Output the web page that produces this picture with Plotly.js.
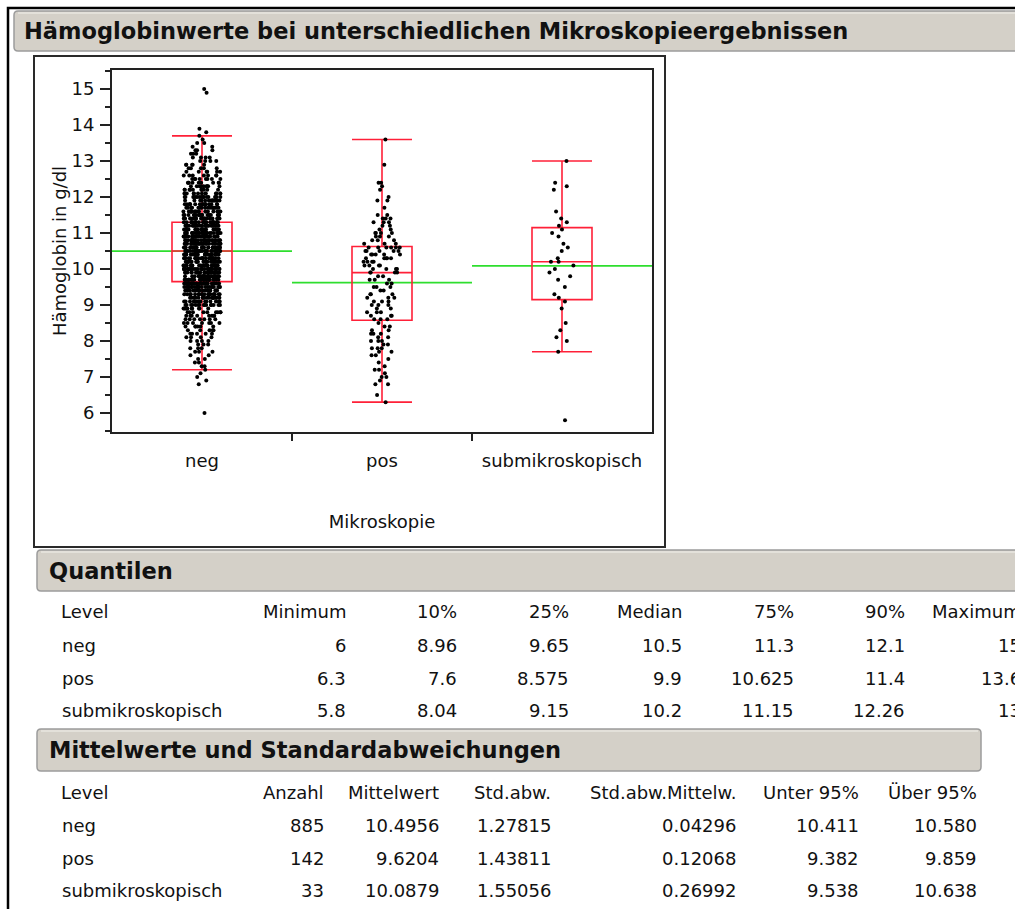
<!DOCTYPE html>
<html>
<head>
<meta charset="utf-8">
<script src="https://cdn.plot.ly/plotly-3.0.1.min.js"></script>
<style>
  html, body { margin: 0; padding: 0; background: #fff; overflow: hidden; }
  #chart { width: 1015px; height: 909px; }
</style>
</head>
<body>
<div id="chart"></div>
<script>
// ---- data ---------------------------------------------------------------
const groups = ['neg', 'pos', 'submikroskopisch'];

// Hämoglobin readings (g/dl) per microscopy result, as value / frequency pairs
const negHb = [6.0, 6.8, 6.9, 7.0, 7.1, 7.2, 7.3, 7.4, 7.5, 7.6, 7.7, 7.8, 7.9,
  8.0, 8.1, 8.2, 8.3, 8.4, 8.5, 8.6, 8.7, 8.8, 8.9,
  9.0, 9.1, 9.2, 9.3, 9.4, 9.5, 9.6, 9.7, 9.8, 9.9,
  10.0, 10.1, 10.2, 10.3, 10.4, 10.5, 10.6, 10.7, 10.8, 10.9,
  11.0, 11.1, 11.2, 11.3, 11.4, 11.5, 11.6, 11.7, 11.8, 11.9,
  12.0, 12.1, 12.2, 12.3, 12.4, 12.5, 12.6, 12.7, 12.8, 12.9,
  13.0, 13.1, 13.2, 13.3, 13.4, 13.5, 13.6, 13.7, 13.8, 13.9, 14.9, 15.0];
const negCount = [1, 1, 1, 1, 1, 1, 2, 2, 2, 2, 3, 3, 3,
  4, 4, 5, 5, 6, 7, 7, 8, 9, 10,
  15, 16, 18, 19, 20, 22, 23, 24, 25, 26,
  30, 27, 27, 27, 26, 28, 27, 26, 26, 25,
  30, 24, 23, 24, 21, 20, 19, 17, 16, 15,
  16, 12, 10, 9, 9, 8, 7, 6, 5, 5,
  4, 4, 3, 3, 2, 2, 1, 1, 1, 1, 1, 1];

const posHb = [6.3, 6.5, 6.8, 6.9, 7.0, 7.1, 7.2, 7.3, 7.4, 7.5, 7.6, 7.7, 7.8, 7.9,
  8.0, 8.1, 8.2, 8.3, 8.4, 8.5, 8.6, 8.7, 8.8, 8.9,
  9.0, 9.1, 9.2, 9.3, 9.4, 9.5, 9.6, 9.7, 9.8, 9.9,
  10.0, 10.1, 10.2, 10.3, 10.4, 10.5, 10.6, 10.7, 10.8, 10.9,
  11.0, 11.1, 11.2, 11.3, 11.4, 11.5, 11.7, 11.9, 12.0, 12.2, 12.3, 12.4, 12.9, 13.6];
const posCount = [1, 1, 2, 1, 2, 1, 2, 1, 1, 1, 2, 2, 3, 2,
  3, 2, 3, 2, 2, 1, 3, 3, 3, 2,
  3, 3, 3, 3, 2, 3, 2, 3, 2, 4,
  4, 4, 4, 5, 5, 5, 6, 3, 3, 3,
  4, 2, 2, 3, 3, 2, 1, 2, 1, 1, 1, 2, 1, 1];

const subHb = [5.8, 7.7, 8.0, 8.1, 8.3, 8.5, 8.9, 9.1, 9.2, 9.3, 9.5, 9.7, 9.8, 9.9,
  10.0, 10.1, 10.2, 10.3, 10.5, 10.6, 10.7, 10.9, 11.0, 11.1, 11.2, 11.3, 11.4,
  11.6, 12.2, 12.3, 12.4, 13.0];
const subCount = [1, 1, 1, 1, 1, 1, 1, 1, 1, 1, 1, 1, 1, 1,
  1, 1, 2, 1, 1, 1, 1, 1, 1, 1, 1, 1, 1,
  1, 1, 1, 1, 1];

// Quantilen
const quantHeads = ['Minimum', '10%', '25%', 'Median', '75%', '90%', 'Maximum'];
const qMin = [6, 6.3, 5.8];
const q10 = [8.96, 7.6, 8.04];
const q25 = [9.65, 8.575, 9.15];
const qMed = [10.5, 9.9, 10.2];
const q75 = [11.3, 10.625, 11.15];
const q90 = [12.1, 11.4, 12.26];
const qMax = [15, 13.6, 13];

// whisker ends (outlier box plot)
const whiskerLow = [7.2, 6.3, 7.7];
const whiskerHigh = [13.7, 13.6, 13.0];

// Mittelwerte und Standardabweichungen
const meanHeads = ['Anzahl', 'Mittelwert', 'Std.abw.', 'Std.abw.Mittelw.', 'Unter 95%', 'Über 95%'];
const nObs = [885, 142, 33];
const meanHb = [10.4956, 9.6204, 10.0879];
const sdHb = [1.27815, 1.43811, 1.55056];
const seMean = [0.04296, 0.12068, 0.26992];
const lower95 = [10.411, 9.382, 9.538];
const upper95 = [10.580, 9.859, 10.638];

// ---- page geometry (pixels) -------------------------------------------
const W = 1015, H = 909;
const L = 112, R = 652, T = 70, B = 432;          // plotting area
const fx = x => (x - L) / (R - L);                  // pixel -> paper
const fy = y => (B - y) / (B - T);

const FONT = 'DejaVu Sans, Arial, sans-serif';
const INK = '#111';
const BAR_FILL = '#d4d0c8';
const BAR_LINE = '#9c9c9c';

function expand(vals, counts) {
  const out = [];
  vals.forEach((v, i) => { for (let k = 0; k < counts[i]; k++) out.push(v); });
  return out;
}

function roundRect(x0, y0, x1, y1, r) {
  const p = (x, y) => fx(x) + ',' + fy(y);
  return 'M' + p(x0 + r, y0) + ' L' + p(x1 - r, y0) + ' Q' + p(x1, y0) + ' ' + p(x1, y0 + r) +
    ' L' + p(x1, y1 - r) + ' Q' + p(x1, y1) + ' ' + p(x1 - r, y1) +
    ' L' + p(x0 + r, y1) + ' Q' + p(x0, y1) + ' ' + p(x0, y1 - r) +
    ' L' + p(x0, y0 + r) + ' Q' + p(x0, y0) + ' ' + p(x0 + r, y0) + ' Z';
}

// ---- traces ---------------------------------------------------------------
const boxWidth = 1 / 3;
const traces = [];

// red outlier boxes from the quantile table
traces.push({
  type: 'box',
  x: [0, 1, 2],
  q1: q25, median: qMed, q3: q75,
  lowerfence: whiskerLow, upperfence: whiskerHigh,
  width: boxWidth,
  whiskerwidth: 1,
  boxpoints: false,
  line: { color: '#ff2038', width: 1.6 },
  fillcolor: 'rgba(0,0,0,0)',
  hoverinfo: 'skip',
  showlegend: false
});

// jittered observations
const samples = [expand(negHb, negCount), expand(posHb, posCount), expand(subHb, subCount)];
const jitters = [0.62, 0.62, 0.45];
samples.forEach((ys, i) => {
  traces.push({
    type: 'box',
    y: ys,
    x0: i,
    width: boxWidth,
    boxpoints: 'all',
    jitter: jitters[i],
    pointpos: 0,
    marker: { color: '#000', size: 4 },
    line: { color: 'rgba(0,0,0,0)', width: 0 },
    fillcolor: 'rgba(0,0,0,0)',
    hoverinfo: 'skip',
    showlegend: false
  });
});

// ---- shapes ---------------------------------------------------------------
const shapes = [];

// group means across each category
meanHb.forEach((m, i) => {
  shapes.push({
    type: 'line', xref: 'x', yref: 'y', layer: 'below',
    x0: i - 0.5, x1: i + 0.5, y0: m, y1: m,
    line: { color: '#2ede2e', width: 1.6 }
  });
});

// report frame
shapes.push({
  type: 'path', xref: 'paper', yref: 'paper',
  path: 'M' + fx(8) + ',' + fy(915) + ' L' + fx(8) + ',' + fy(8) + ' L' + fx(1030) + ',' + fy(8),
  line: { color: '#000', width: 2.5 }
});

// section header bars
[[14, 11, 1040, 51], [37, 550, 1040, 591], [37, 729, 981, 771]].forEach(b => {
  shapes.push({
    type: 'path', xref: 'paper', yref: 'paper',
    path: roundRect(b[0], b[1], b[2], b[3], 4),
    fillcolor: BAR_FILL,
    line: { color: BAR_LINE, width: 1.5 }
  });
  shapes.push({
    type: 'line', xref: 'paper', yref: 'paper',
    x0: fx(b[0] + 4), x1: fx(b[2] - 3), y0: fy(b[1] + 2), y1: fy(b[1] + 2),
    line: { color: '#f2f1ec', width: 1 }
  });
});

// frame around the graph
shapes.push({
  type: 'rect', xref: 'paper', yref: 'paper',
  x0: fx(34), x1: fx(665), y0: fy(56), y1: fy(547),
  line: { color: '#2a2a2a', width: 2 }
});

// ---- annotations ----------------------------------------------------------
const annotations = [];
function txt(text, x, y, anchor, opts) {
  opts = opts || {};
  annotations.push({
    text: text, xref: 'paper', yref: 'paper', x: fx(x), y: fy(y),
    xanchor: anchor, yanchor: 'middle', showarrow: false, borderpad: 0,
    font: { family: FONT, size: opts.size || 18, color: INK, weight: opts.bold ? 'bold' : 'normal' }
  });
}

txt('Hämoglobinwerte bei unterschiedlichen Mikroskopieergebnissen', 23, 31, 'left', { bold: true, size: 22.5 });
txt('Quantilen', 48, 571, 'left', { bold: true, size: 22.5 });
txt('Mittelwerte und Standardabweichungen', 48, 750, 'left', { bold: true, size: 22.5 });

// Quantilen table
const quantCols = [qMin, q10, q25, qMed, q75, q90, qMax];
const quantRight = [347, 458, 570, 683, 795, 906, 1022];
const quantRows = [645, 678, 710];
txt('Level', 60, 611, 'left');
quantHeads.forEach((h, c) => txt(h, quantRight[c], 611, 'right'));
groups.forEach((g, r) => {
  txt(g, 61, quantRows[r], 'left');
  quantCols.forEach((col, c) => txt(String(col[r]), quantRight[c], quantRows[r], 'right'));
});

// Mittelwerte table
const meanCols = [
  nObs.map(v => String(v)),
  meanHb.map(v => v.toFixed(4)),
  sdHb.map(v => v.toFixed(5)),
  seMean.map(v => v.toFixed(5)),
  lower95.map(v => v.toFixed(3)),
  upper95.map(v => v.toFixed(3))
];
const meanRight = [325, 440, 552, 737, 860, 978];
const meanRows = [826, 858, 890];
txt('Level', 60, 792, 'left');
meanHeads.forEach((h, c) => txt(h, meanRight[c], 792, 'right'));
groups.forEach((g, r) => {
  txt(g, 61, meanRows[r], 'left');
  meanCols.forEach((col, c) => txt(col[r], meanRight[c], meanRows[r], 'right'));
});

// ---- layout ---------------------------------------------------------------
const axisFont = { family: FONT, size: 18, color: INK };
const layout = {
  width: W, height: H,
  margin: { l: L, r: W - R, t: T, b: H - B, pad: 0 },
  paper_bgcolor: '#fff',
  plot_bgcolor: '#fff',
  showlegend: false,
  boxmode: 'overlay',
  xaxis: {
    range: [-0.5, 2.5],
    tickmode: 'array', tickvals: [0, 1, 2], ticktext: groups,
    ticks: '', ticklabelstandoff: 11,
    tickfont: axisFont,
    minor: { tickmode: 'array', tickvals: [0.5, 1.5], ticks: 'outside', ticklen: 7, tickwidth: 1.5, tickcolor: '#222', showgrid: false },
    showline: true, mirror: true, linecolor: '#222', linewidth: 2,
    showgrid: false, zeroline: false, fixedrange: true,
    title: { text: 'Mikroskopie', font: axisFont, standoff: 46 }
  },
  yaxis: {
    range: [5.47, 15.53],
    tickmode: 'linear', tick0: 6, dtick: 1,
    ticks: 'outside', ticklen: 10, tickwidth: 1.5, tickcolor: '#222',
    ticklabelstandoff: 2,
    tickfont: axisFont,
    minor: { tick0: 0, dtick: 0.5, ticks: 'outside', ticklen: 5, tickwidth: 1.5, tickcolor: '#222', showgrid: false },
    showline: true, mirror: true, linecolor: '#222', linewidth: 2,
    showgrid: false, zeroline: false, fixedrange: true,
    title: { text: 'Hämoglobin in g/dl', font: axisFont, standoff: 0 }
  },
  shapes: shapes,
  annotations: annotations
};

Plotly.newPlot('chart', traces, layout, { displayModeBar: false, staticPlot: true });
</script>
</body>
</html>
